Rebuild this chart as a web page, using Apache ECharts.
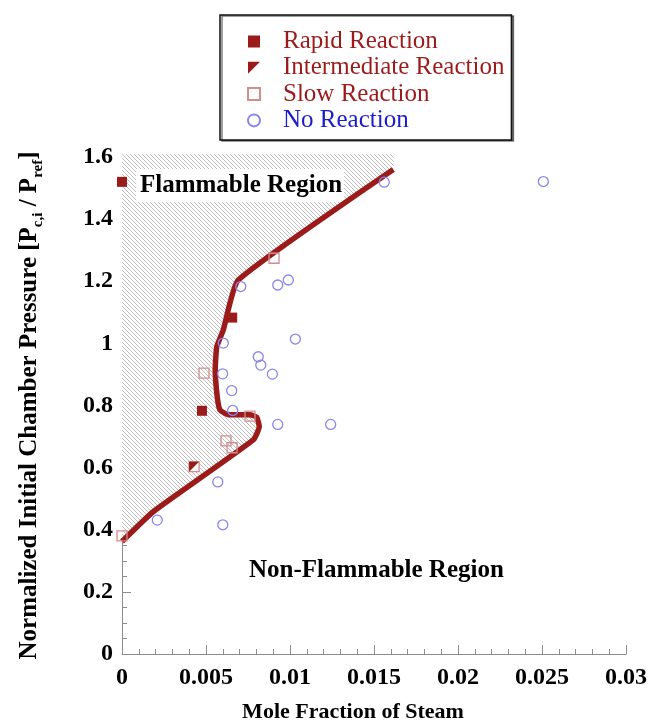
<!DOCTYPE html>
<html>
<head>
<meta charset="utf-8">
<script src="https://cdn.jsdelivr.net/npm/echarts@6/dist/echarts.min.js"></script>
<style>
html,body{margin:0;padding:0;background:#fff;}
#chart{width:649px;height:722px;}
</style>
</head>
<body>
<div id="chart"></div>
<script>
// ---- data ----
const xTicks = ['0', '0.005', '0.01', '0.015', '0.02', '0.025', '0.03'];
const yTicks = ['0', '0.2', '0.4', '0.6', '0.8', '1', '1.2', '1.4', '1.6'];

const rapidX = [0, 0.00656, 0.00476];
const rapidY = [1.52, 1.083, 0.783];

const interX = [0.00429];
const interY = [0.603];

const slowX = [0, 0.00488, 0.00905, 0.00762, 0.00619, 0.00655];
const slowY = [0.38, 0.904, 1.274, 0.766, 0.686, 0.664];

const noneX = [0.01561, 0.02508, 0.00707, 0.00927, 0.0099, 0.01032, 0.00811, 0.00826, 0.00895,
               0.00603, 0.00599, 0.00653, 0.00659, 0.00927, 0.01242, 0.0057, 0.0021, 0.006];
const noneY = [1.519, 1.521, 1.183, 1.188, 1.204, 1.014, 0.957, 0.930, 0.901,
               1.001, 0.902, 0.848, 0.784, 0.739, 0.739, 0.554, 0.431, 0.416];

const boundX = [0, 0.00186, 0.00781, 0.00817, 0.00802, 0.00762, 0.00633, 0.00583, 0.00567,
                0.00555, 0.00564, 0.00603, 0.00692, 0.01615];
const boundY = [0.362, 0.458, 0.689, 0.732, 0.762, 0.770, 0.770, 0.786, 0.828,
                0.914, 0.989, 1.043, 1.204, 1.560];

// top corners of the flammable (hatched) region
const hatchTopX = [0.0162, 0];
const hatchTopY = [1.61, 1.61];

const zip = (xs, ys) => xs.map((x, i) => [x, ys[i]]);

// ---- styles ----
const DARK = '#9b1b1b';
const SLOW = '#d38d8d';
const BLUE = '#8a86ee';
const FONT = '"Liberation Serif", "Times New Roman", serif';

// hatch pattern
const pc = document.createElement('canvas');
pc.width = 4; pc.height = 4;
const ctx = pc.getContext('2d');
ctx.fillStyle = '#ffffff';
ctx.fillRect(0, 0, 4, 4);
ctx.strokeStyle = '#bdbdbd';
ctx.lineWidth = 1;
ctx.beginPath();
ctx.moveTo(-1, -1); ctx.lineTo(5, 5);
ctx.moveTo(-1, 3); ctx.lineTo(1, 5);
ctx.moveTo(3, -1); ctx.lineTo(5, 1);
ctx.stroke();

const chart = echarts.init(document.getElementById('chart'), null, {renderer: 'canvas'});

const option = {
  backgroundColor: '#fff',
  animation: false,
  grid: {left: 122, right: 23, top: 157, bottom: 68, containLabel: false, outerBoundsMode: 'none'},
  xAxis: {
    type: 'value', min: 0, max: 0.03, interval: 0.005,
    axisLine: {show: true, lineStyle: {color: '#8c8c8c', width: 1}},
    axisTick: {show: true, inside: true, length: 9, lineStyle: {color: '#8c8c8c'}},
    minorTick: {show: true, splitNumber: 5, length: 5, lineStyle: {color: '#8c8c8c'}},
    splitLine: {show: false},
    axisLabel: {
      margin: 12, fontFamily: FONT, fontWeight: 'bold', fontSize: 24, color: '#000',
      formatter: (v) => { const i = Math.round(v / 0.005); return xTicks[i]; }
    },
    name: 'Mole Fraction of Steam', nameLocation: 'middle', nameGap: 47,
    nameTextStyle: {fontFamily: FONT, fontWeight: 'bold', fontSize: 22, color: '#000', padding: [0, 42, 0, 0]}
  },
  yAxis: {
    type: 'value', min: 0, max: 1.6, interval: 0.2,
    axisLine: {show: true, lineStyle: {color: '#8c8c8c', width: 1}},
    axisTick: {show: true, inside: true, length: 9, lineStyle: {color: '#8c8c8c'}},
    minorTick: {show: true, splitNumber: 4, length: 5, lineStyle: {color: '#8c8c8c'}},
    splitLine: {show: false},
    axisLabel: {
      margin: 9, fontFamily: FONT, fontWeight: 'bold', fontSize: 24, color: '#000',
      formatter: (v) => { const i = Math.round(v / 0.2); return yTicks[i]; }
    },
    name: '{m|Normalized Initial Chamber Pressure [P}{s|c,i}{m| / P}{s|ref}{m|]}',
    nameLocation: 'middle', nameRotate: 90, nameGap: 76,
    nameTextStyle: {
      color: '#000',
      rich: {
        m: {fontFamily: FONT, fontWeight: 'bold', fontSize: 25, color: '#000', lineHeight: 32, verticalAlign: 'middle'},
        s: {fontFamily: FONT, fontWeight: 'bold', fontSize: 15, color: '#000', lineHeight: 15, verticalAlign: 'bottom'}
      }
    }
  },
  legend: {
    orient: 'vertical', left: 220, top: 15,
    padding: [14, 7, 7, 27],
    itemWidth: 12, itemHeight: 12, itemGap: 1.3,
    borderColor: '#111', borderWidth: 1.5,
    shadowColor: 'rgba(0,0,0,0.5)', shadowOffsetX: 2, shadowOffsetY: 1,
    backgroundColor: '#fff',
    textStyle: {fontFamily: FONT, fontSize: 25, lineHeight: 25, padding: [0, 0, 0, 18]},
    data: [
      {name: 'Rapid Reaction', textStyle: {color: DARK}},
      {name: 'Intermediate Reaction', textStyle: {color: DARK}},
      {name: 'Slow Reaction', textStyle: {color: DARK}},
      {name: 'No Reaction', textStyle: {color: '#1c1ccc'}}
    ]
  },
  graphic: [
    {
      type: 'text', left: 136, top: 169, z: 2,
      style: {text: 'Flammable Region', font: 'bold 25px ' + FONT, fill: '#000',
              backgroundColor: '#fff', padding: [4, 2, 4, 4]}
    },
    {
      type: 'text', left: 249, top: 558, z: 2,
      style: {text: 'Non-Flammable Region', font: 'bold 25px ' + FONT, fill: '#000'}
    }
  ],
  series: [
    {
      type: 'custom', name: 'hatch', z: 1, silent: true, clip: false,
      data: [[0, 0]],
      renderItem: (params, api) => {
        const pts = zip(boundX, boundY).concat(zip(hatchTopX, hatchTopY)).map(p => api.coord(p));
        return {type: 'polygon', shape: {points: pts},
                style: {fill: {image: pc, repeat: 'repeat'}, stroke: null}};
      }
    },
    {
      type: 'line', name: 'boundary', z: 3, silent: true,
      data: zip(boundX, boundY), symbol: 'none', smooth: 0.15,
      lineStyle: {color: DARK, width: 5.5}
    },
    {
      type: 'scatter', name: 'Slow Reaction', z: 4,
      data: zip(slowX, slowY), symbol: 'rect', symbolSize: 10,
      itemStyle: {color: 'rgba(255,255,255,0)', borderColor: SLOW, borderWidth: 1.3, opacity: 1}
    },
    {
      type: 'scatter', name: 'interOutline', z: 4,
      data: zip(interX, interY), symbol: 'rect', symbolSize: 10,
      itemStyle: {color: '#fff', borderColor: SLOW, borderWidth: 1.3, opacity: 1}
    },
    {
      type: 'scatter', name: 'Intermediate Reaction', z: 5,
      data: zip(interX, interY), symbol: 'path://M0,0 L10,0 L0,10 Z', symbolSize: 10, symbolKeepAspect: true,
      itemStyle: {color: DARK, opacity: 1}
    },
    {
      type: 'scatter', name: 'Rapid Reaction', z: 5,
      data: zip(rapidX, rapidY), symbol: 'rect', symbolSize: 10,
      itemStyle: {color: DARK, opacity: 1}
    },
    {
      type: 'scatter', name: 'No Reaction', z: 4,
      data: zip(noneX, noneY), symbol: 'circle', symbolSize: 10,
      itemStyle: {color: 'rgba(255,255,255,0)', borderColor: BLUE, borderWidth: 1.3, opacity: 1}
    }
  ]
};
chart.setOption(option);
</script>
</body>
</html>
